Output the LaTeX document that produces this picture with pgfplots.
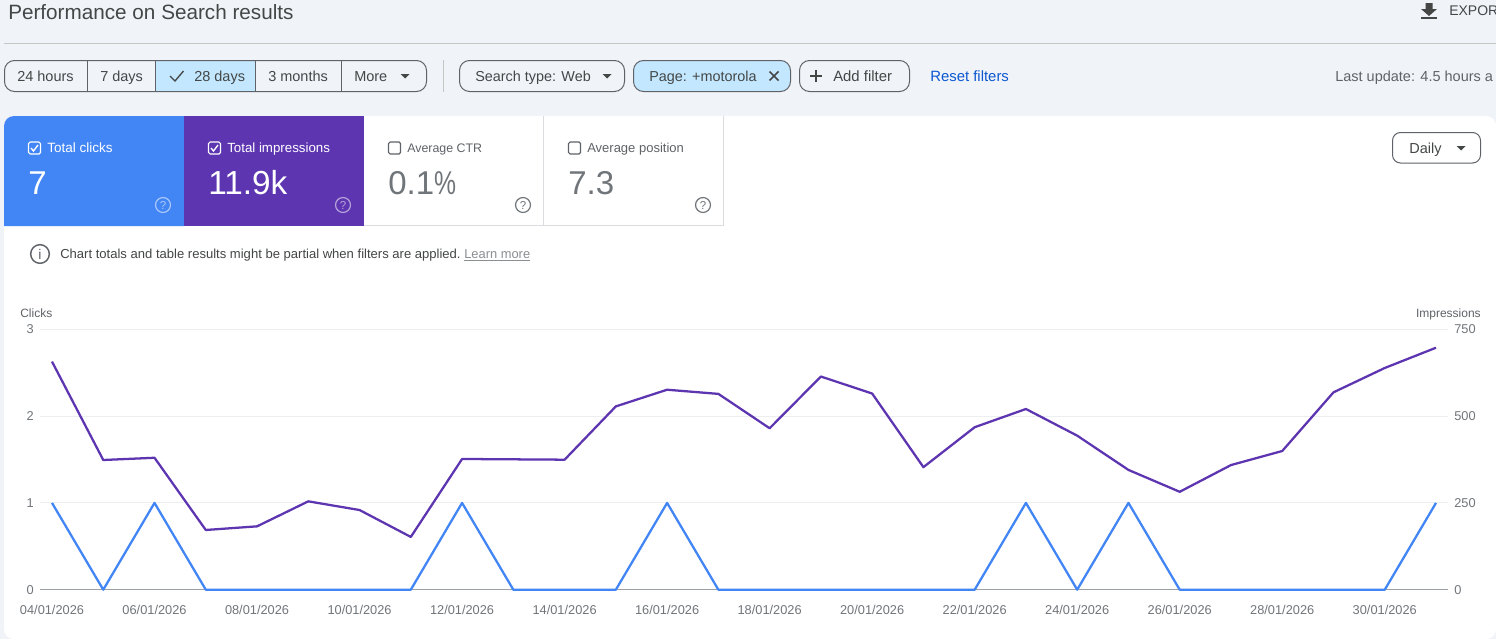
\documentclass[border=0pt]{standalone}
\usepackage{fontspec}
\usepackage{graphicx}
\usepackage{pgfplots}
\pgfplotsset{compat=1.18}
\usepackage{pgfplotstable}
\setmainfont{Liberation Sans}
\definecolor{pagebg}{HTML}{F0F4F9}
\definecolor{cblue}{HTML}{4285F4}
\definecolor{cpurple}{HTML}{5E35B1}
\definecolor{chip}{HTML}{C2E7FF}
\definecolor{ink}{HTML}{444746}
\definecolor{soft}{HTML}{5F6368}
\definecolor{tickc}{HTML}{70757A}
\definecolor{rulec}{HTML}{C4C7C5}
\definecolor{cardline}{HTML}{DADCE0}
\definecolor{gridc}{HTML}{EDEEF0}
\definecolor{basec}{HTML}{9AA0A6}
\definecolor{linkc}{HTML}{0B57D0}
\definecolor{learnc}{HTML}{8A8F94}
\newcommand\fs[1]{\fontsize{\fpeval{#1*0.75}pt}{\fpeval{#1*0.9}pt}\selectfont}
\newcommand\txt[5]{\node[anchor=base west,inner sep=0pt,text=#4] at (#1,#2) {\fs{#3}#5};}
\newcommand\tri[2]{\fill[ink] ({#1-4.5},{#2-2}) -- ({#1+4.5},{#2-2}) -- (#1,{#2+2.5}) -- cycle;}
\newcommand\helpi[3]{\draw[#3,line width=0.9pt] (#1,#2) circle[radius=5.6pt];
  \node[inner sep=0pt,text=#3] at (#1,#2) {\fs{11.5}?};}
\pgfplotstableread{
day clicks impressions
0 1 657
1 0 373.6
2 1 380
3 0 172
4 0 182.5
5 0 254.5
6 0 229.5
7 0 152
8 1 376.5
9 0 375.5
10 0 374.5
11 0 528
12 1 576
13 0 564
14 0 465
15 0 614
16 0 565
17 0 353
18 0 468
19 1 520.5
20 0 443.7
21 1 345
22 0 282
23 0 359
24 0 399.5
25 0 568.5
26 0 638.6
27 1 697
}\gscdata
\begin{document}
\begin{tikzpicture}[x=0.75pt,y=-0.75pt]
\path[use as bounding box] (0,0) rectangle (1496,639);
\clip (0,0) rectangle (1496,639);
\fill[pagebg] (0,0) rectangle (1496,639);
% header
\txt{8}{19}{20.7}{ink}{Performance on Search results}
\fill[ink] (1425.5,3) rectangle (1432.5,9) (1421,9) -- (1437,9) -- (1429,16) -- cycle;
\fill[ink] (1421,17) rectangle (1437,19);
\txt{1449}{16}{14}{ink}{EXPORT}
\draw[rulec,line width=0.75pt] (4,43.5) -- (1496,43.5);
% range buttons
\fill[chip] (155.5,60.5) rectangle (255.5,91.5);
\draw[soft,line width=0.75pt,rounded corners=7.5pt] (4.5,60.5) rectangle (426.5,91.5);
\draw[soft,line width=0.75pt] (87.5,60.5) -- (87.5,91.5) (155.5,60.5) -- (155.5,91.5) (255.5,60.5) -- (255.5,91.5) (341.5,60.5) -- (341.5,91.5);
\txt{17}{81}{14.5}{ink}{24 hours}
\txt{100}{81}{14.5}{ink}{7 days}
\draw[ink,line width=1pt] (170,76) -- (175,81) -- (183.5,71);
\txt{194}{81}{14.5}{ink}{28 days}
\txt{268}{81}{14.5}{ink}{3 months}
\txt{354}{81}{14.5}{ink}{More}
\tri{405}{76}
\draw[rulec,line width=0.75pt] (443.5,60) -- (443.5,92);
\draw[soft,line width=0.75pt,rounded corners=7.5pt] (459.5,60.5) rectangle (624.5,91.5);
\txt{475}{81}{14.4}{ink}{Search type: Web}
\tri{607}{76}
\draw[soft,fill=chip,line width=0.75pt,rounded corners=7.5pt] (633.5,60.5) rectangle (790.5,91.5);
\txt{649}{81}{14.4}{ink}{Page: +motorola}
\draw[ink,line width=1.1pt] (769.5,71.5) -- (778.5,80.5) (769.5,80.5) -- (778.5,71.5);
\draw[soft,line width=0.75pt,rounded corners=7.5pt] (799.5,60.5) rectangle (909.5,91.5);
\draw[ink,line width=1pt] (810,76) -- (822,76) (816,70) -- (816,82);
\txt{833}{81}{14.9}{ink}{Add filter}
\txt{930}{81}{14.9}{linkc}{Reset filters}
\txt{1335}{81}{14.5}{soft}{Last update: 4.5 hours a}
% panel
\fill[white,rounded corners=7.5pt] (4,116) rectangle (1496,639);
% cards
\fill[cblue] (4,226) [rounded corners=7.5pt] -- (4,116) [sharp corners] -- (184,116) -- (184,226) -- cycle;
\fill[cpurple] (184,116) rectangle (364,226);
\draw[cardline,line width=0.75pt] (364,225.5) -- (723.5,225.5) -- (723.5,116) (543.5,116) -- (543.5,225.5);
% check boxes
\draw[white,line width=0.9pt,rounded corners=1.2pt] (28.5,142) rectangle (40.5,154);
\draw[white,line width=1pt] (31,148) -- (33.5,151) -- (38,145);
\draw[white,line width=0.9pt,rounded corners=1.2pt] (208.5,142) rectangle (220.5,154);
\draw[white,line width=1pt] (211,148) -- (213.5,151) -- (218,145);
\draw[soft,line width=0.9pt,rounded corners=1.2pt] (388.5,142) rectangle (400.5,154);
\draw[soft,line width=0.9pt,rounded corners=1.2pt] (568.5,142) rectangle (580.5,154);
\txt{47}{152}{13.5}{white}{Total clicks}
\txt{227}{152}{13.3}{white}{Total impressions}
\txt{407}{152}{12.4}{soft}{Average CTR}
\txt{587}{152}{13}{soft}{Average position}
\txt{28}{194}{33}{white}{7}
\txt{208}{194}{33.3}{white}{11.9k}
\txt{388}{194}{33}{tickc}{0.1\scalebox{0.75}[1]{\%}}
\txt{568}{194}{33}{tickc}{7.3}
\helpi{163}{205}{white!55!cblue}
\helpi{343}{205}{white!55!cpurple}
\helpi{523}{205}{tickc}
\helpi{703}{205}{tickc}
% daily
\draw[soft,line width=0.75pt,rounded corners=6pt] (1392.5,132.5) rectangle (1480.5,163);
\txt{1409}{153}{14.5}{ink}{Daily}
\tri{1461}{148}
% notice
\draw[soft,line width=1.1pt] (40,254) circle[radius=7pt];
\node[inner sep=0pt,text=soft] at (40,254) {\fs{14}i};
\txt{60}{258}{13.05}{ink}{Chart totals and table results might be partial when filters are applied.}
\txt{464}{258}{12.9}{learnc}{\underline{Learn more}}
% axis titles
\txt{20}{317}{12}{soft}{Clicks}
\node[anchor=base east,inner sep=0pt,text=soft] at (1481,317) {\fs{12}Impressions};
% chart
\begin{axis}[
  at={(30pt,-442.275pt)},anchor=south west,
  scale only axis,width=1056pt,height=195.3pt,
  xmin=-0.2341,xmax=27.2341,ymin=0,ymax=3,
  axis x line*=bottom,axis y line*=left,
  x axis line style={draw=basec,line width=0.75pt,-},
  y axis line style={draw=none},
  major tick length=0pt,
  xtick={0,2,...,26},
  xticklabels={04/01/2026,06/01/2026,08/01/2026,10/01/2026,12/01/2026,14/01/2026,16/01/2026,18/01/2026,20/01/2026,22/01/2026,24/01/2026,26/01/2026,28/01/2026,30/01/2026},
  xticklabel style={anchor=center,yshift=-15.5pt,inner sep=0pt,text=tickc,font=\fs{12.8}},
  ytick={0,1,2,3},
  yticklabel style={anchor=east,xshift=-4.5pt,inner sep=0pt,text=tickc,font=\fs{12.8}},
  /pgf/number format/assume math mode=true,
  ymajorgrids,grid style={gridc,line width=0.75pt},
  clip=false,
]
\addplot[cblue,line width=1.7pt,line join=round,no markers] table[x=day,y=clicks] {\gscdata};
\end{axis}
\begin{axis}[
  at={(30pt,-442.275pt)},anchor=south west,
  scale only axis,width=1056pt,height=195.3pt,
  xmin=-0.2341,xmax=27.2341,ymin=0,ymax=750,
  hide x axis,axis y line*=right,
  y axis line style={draw=none},
  major tick length=0pt,
  ytick={0,250,500,750},
  yticklabel style={anchor=west,xshift=4.5pt,inner sep=0pt,text=tickc,font=\fs{12.8}},
  /pgf/number format/assume math mode=true,
  clip=false,
]
\addplot[cpurple,line width=1.7pt,line join=round,no markers] table[x=day,y=impressions] {\gscdata};
\end{axis}
\end{tikzpicture}
\end{document}
